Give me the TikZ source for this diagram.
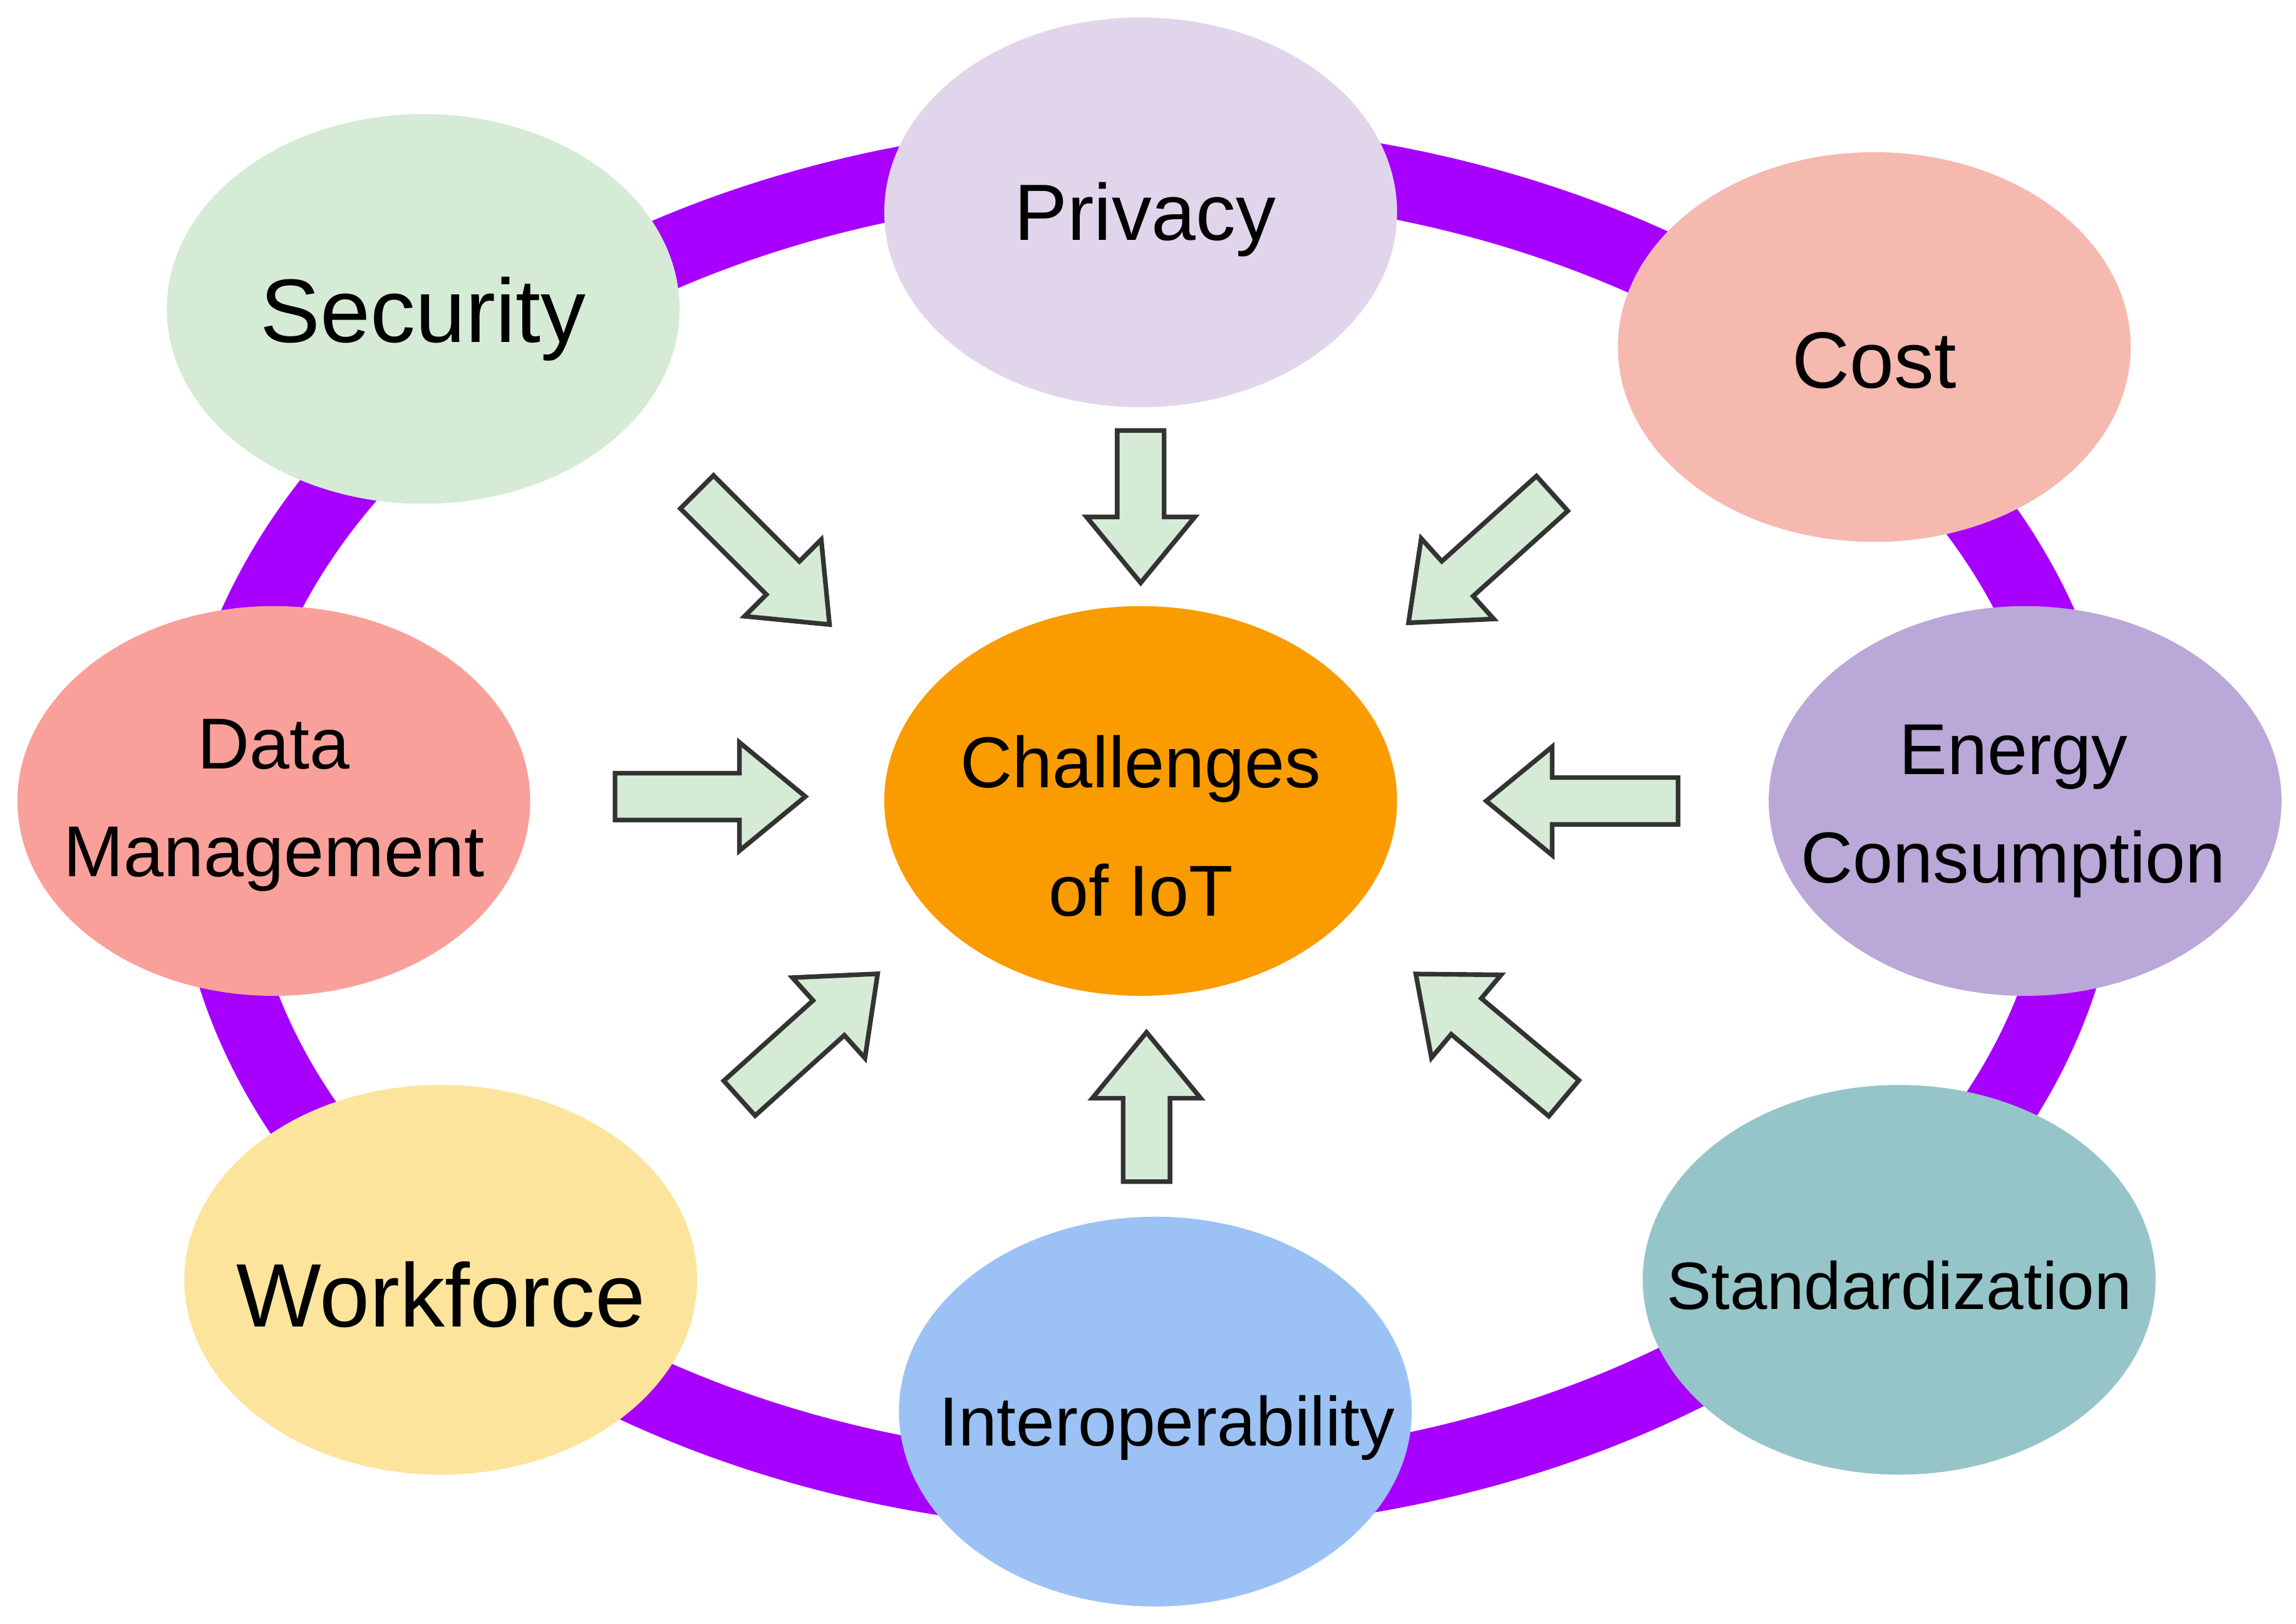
\documentclass[tikz,border=0pt]{standalone}
\usepackage{fontspec}
\setmainfont{Liberation Sans}
\usetikzlibrary{shapes.geometric}
\definecolor{ring}{HTML}{A700FF}
\definecolor{arr}{HTML}{D5EBD5}
\tikzset{
  ch/.style={ellipse, minimum width=3.5cm, minimum height=2.66cm, inner sep=0pt},
  tx/.style={align=center, text=black, inner sep=0pt, font=\fontsize{14}{21}\selectfont},
  blk/.style={draw=black!80, line width=0.9pt, fill=arr, line join=miter}
}
\newcommand{\blockarrow}[3]{% at, rotation, length
  \begin{scope}[shift={#1}, rotate=#2]
    \draw[blk] (0,-16) -- (#3-45,-16) -- (#3-45,-37) -- (#3,0) -- (#3-45,37) -- (#3-45,16) -- (0,16) -- cycle;
  \end{scope}}
\begin{document}
\begin{tikzpicture}[x=0.01cm,y=-0.01cm]
\useasboundingbox (0,0) rectangle (1568,1109);
\node[draw=ring, line width=14pt, ellipse, minimum width=12.8cm, minimum height=9.12cm] (ringo) at (784,565) {};
\node[ch, fill={rgb,255:red,213;green,235;blue,213}] (sec) at (289,211) {};
\node[ch, fill={rgb,255:red,225;green,213;blue,235}] (pri) at (779,145) {};
\node[ch, fill={rgb,255:red,245;green,185;blue,176}] (cost) at (1280,237) {};
\node[ch, fill={rgb,255:red,249;green,160;blue,154}] (data) at (187,547) {};
\node[ch, fill={rgb,255:red,250;green,155;blue,0}] (iot) at (779,547) {};
\node[ch, fill={rgb,255:red,185;green,168;blue,216}] (en) at (1383,547) {};
\node[ch, fill={rgb,255:red,253;green,228;blue,156}] (wf) at (301,874) {};
\node[ch, fill={rgb,255:red,150;green,197;blue,201}] (std) at (1297,874) {};
\node[ch, fill={rgb,255:red,156;green,194;blue,245}] (int) at (789,964) {};
\node[tx, font=\fontsize{17.5}{20}\selectfont] (secT) at (289,218) {Security};
\node[tx, font=\fontsize{15.5}{20}\selectfont] (priT) at (782,150) {Privacy};
\node[tx, font=\fontsize{15.5}{20}\selectfont] (costT) at (1280,246) {Cost};
\node[tx] (dataT) at (187,550) {Data\\Management};
\node[tx, font=\fontsize{14}{25}\selectfont] (iotT) at (779,564) {Challenges\\of IoT};
\node[tx] (enT) at (1375,554) {Energy\\Consumption};
\node[tx, font=\fontsize{17.5}{20}\selectfont] (wfT) at (301,884) {Workforce};
\node[tx, font=\fontsize{13}{20}\selectfont] (stdT) at (1297,878) {Standardization};
\node[tx, font=\fontsize{13.5}{20}\selectfont] (intT) at (797,975) {Interoperability};
\blockarrow{(420,544)}{0}{130}
\blockarrow{(1146,547)}{180}{131}
\blockarrow{(779,294)}{-90}{104}
\blockarrow{(783,807)}{90}{102}
\blockarrow{(476,336)}{-45}{128}
\blockarrow{(1060,337)}{-138}{132}
\blockarrow{(505,750)}{42}{127}
\blockarrow{(1068,750)}{140}{132}
\end{tikzpicture}
\end{document}
